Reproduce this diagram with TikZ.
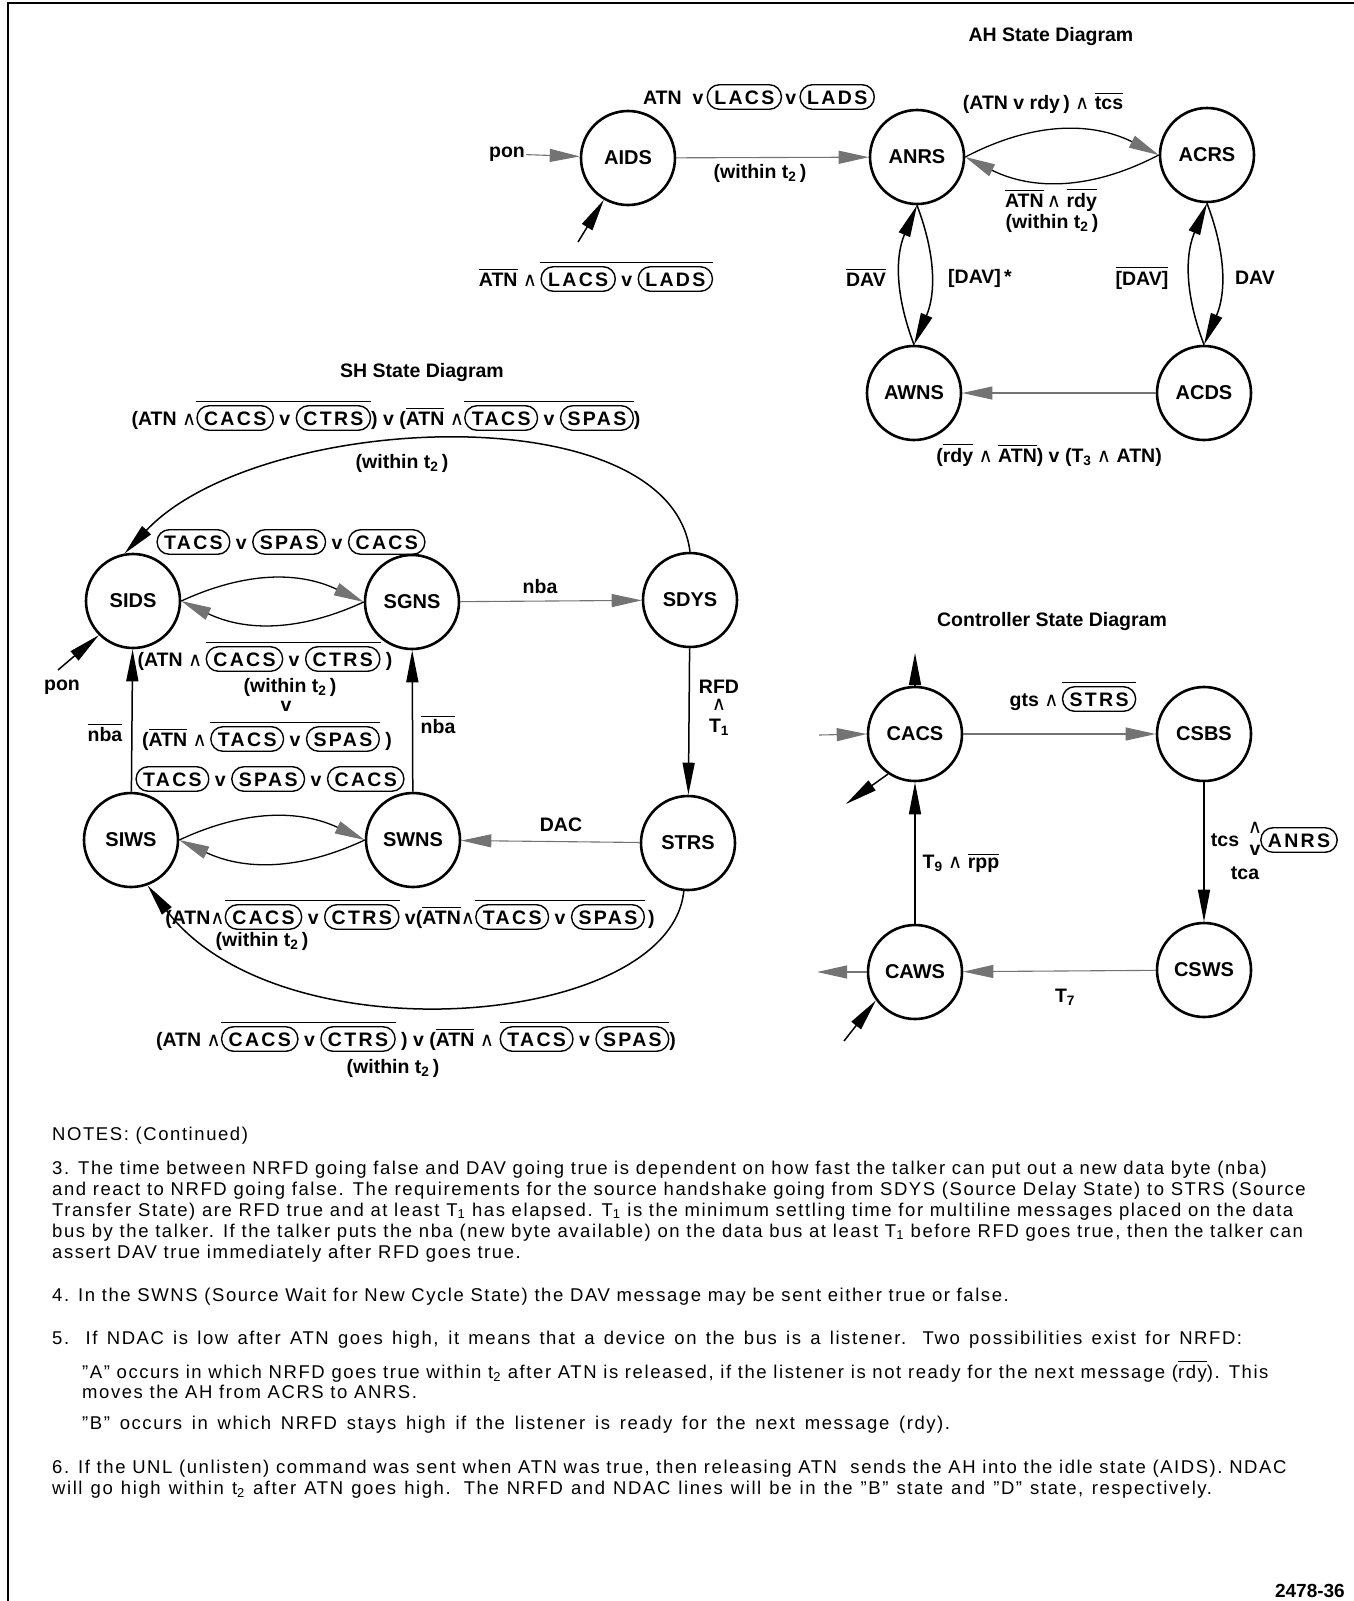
\documentclass[tikz,border=0pt]{standalone}
\usepackage{fontspec}
\setmainfont{Liberation Sans}
\newfontfamily\symf{DejaVu Sans}
\usetikzlibrary{arrows.meta}
\newcommand\AND{{\symf\mdseries\char"2227}}
\newcommand\ovl[1]{\vbox{\hrule height 1pt\kern 3pt\hbox{#1}}}
\newcommand\pill[1]{\tikz[baseline=(pl.base)]\node[draw,line width=1.4pt,rounded corners=12pt,inner xsep=7pt,inner ysep=5pt,outer sep=0pt,text height=14.5pt,text depth=0pt](pl){\addfontfeature{LetterSpace=12}#1};}
\newcommand\wt{(within t\textsubscript{2}\,)}
\tikzset{
 state/.style={draw,circle,line width=2.6pt,minimum size=94pt,inner sep=0pt,font=\fontsize{20}{22}\selectfont\bfseries},
 lbl/.style={inner sep=1pt,font=\fontsize{19.5}{22}\selectfont\bfseries},
 ttl/.style={inner sep=1pt,font=\fontsize{19.5}{22}\selectfont\bfseries},
 note/.style={anchor=base west,inner sep=0pt,font=\fontsize{18.5}{21}\selectfont\addfontfeature{LetterSpace=8.5}},
 gry/.style={draw=black!55,line width=1.1pt,-{Triangle[length=30pt,width=13pt,color=black!55]}},
 blk/.style={draw=black,line width=1.5pt,-{Triangle[length=32pt,width=12pt]}},
 garc/.style={draw=black,line width=1.3pt,-{Triangle[length=30pt,width=13pt,color=black!55]}},
}
\begin{document}
\begin{tikzpicture}[x=1pt,y=1pt]
\useasboundingbox (0,0) rectangle (1354,-1601);
\draw[line width=1.5pt] (1354,-3) -- (8,-3) -- (8,-1601);

% ---------------- AH state diagram
\node[state] (AIDS) at (628,-158) {AIDS};
\node[state] (ANRS) at (917,-157) {ANRS};
\node[state] (ACRS) at (1207,-155) {ACRS};
\node[state] (AWNS) at (914,-393) {AWNS};
\node[state] (ACDS) at (1204,-393) {ACDS};
\node[ttl] (ahT) at (1051,-37) {AH State Diagram};
\node[lbl] (pon1) at (507,-154) {pon};
\coordinate (aidsin) at (578,-242);
\draw[gry] (pon1) -- (AIDS);
\draw[blk] (aidsin) -- (AIDS.240);
\draw[gry] (AIDS) -- (ANRS);
\draw[garc] (ANRS.east) to[bend left=27] (ACRS.west);
\draw[garc] (ACRS.west) to[bend left=27] (ANRS.east);
\draw[blk] (AWNS.north) to[bend left=22] (ANRS.south);
\draw[blk] (ANRS.south) to[bend left=22] (AWNS.north);
\draw[blk] (ACDS.north) to[bend left=22] (ACRS.south);
\draw[blk] (ACRS.south) to[bend left=22] (ACDS.north);
\draw[gry] (ACDS) -- (AWNS);
\node[lbl] (l1) at (759,-97) {ATN\ \ v\,\pill{LACS}\,v\,\pill{LADS}};
\node[lbl] (l2) at (760,-173) {\wt};
\node[lbl] (l3) at (596,-277) {\ovl{ATN}\ \AND\,\ovl{\pill{LACS}\ v\ \pill{LADS}}};
\node[lbl] (l4) at (1043,-103) {(ATN v rdy\,)\ \AND\ \ovl{tcs}};
\node[lbl] (l5) at (1051,-200) {\ovl{ATN}\,\AND\ \ovl{rdy}};
\node[lbl] (l6) at (1052,-223) {\wt};
\node[lbl] (l7) at (866,-278) {\ovl{DAV}};
\node[lbl] (l8) at (980,-278) {[DAV]\,*};
\node[lbl] (l9) at (1142,-278) {\ovl{[DAV]}};
\node[lbl] (l10) at (1255,-278) {DAV};
\node[lbl] (l11) at (1049,-455) {(\ovl{rdy}\ \AND\ \ovl{ATN}) v (T\textsubscript{3}\ \AND\ ATN)};

% ---------------- SH state diagram
\node[state] (SIDS) at (133,-601) {SIDS};
\node[state] (SGNS) at (412,-602) {SGNS};
\node[state] (SDYS) at (690,-600) {SDYS};
\node[state] (SIWS) at (131,-840) {SIWS};
\node[state] (SWNS) at (413,-840) {SWNS};
\node[state] (STRS) at (688,-843) {STRS};
\node[ttl] (shT) at (422,-372) {SH State Diagram};
\draw[blk] (SDYS.90) .. controls (670,-392) and (258,-412) .. (SIDS.100);
\draw[garc] (SIDS.east) to[bend left=25] (SGNS.west);
\draw[garc] (SGNS.west) to[bend left=25] (SIDS.east);
\draw[gry] (SGNS) -- (SDYS);
\draw[blk] (SDYS) -- (STRS);
\draw[gry] (STRS) -- (SWNS);
\draw[garc] (SIWS.east) to[bend left=25] (SWNS.west);
\draw[garc] (SWNS.west) to[bend left=25] (SIWS.east);
\draw[blk] (SIWS) -- (SIDS);
\draw[blk] (SWNS) -- (SGNS);
\draw[blk] (STRS.265) .. controls (670,-1028) and (280,-1060) .. (SIWS.-70);
\coordinate (sidsin) at (58,-670);
\draw[blk] (sidsin) -- (SIDS.225);
\node[lbl] (s1) at (386,-416) {(ATN \AND\ovl{\pill{CACS}\ v\ \pill{CTRS}}) v (\ovl{ATN}\ \AND\ovl{\pill{TACS}\ v\ \pill{SPAS}})};
\node[lbl] (s2) at (402,-463) {\wt};
\node[lbl] (s3) at (291,-542) {\pill{TACS}\ v\ \pill{SPAS}\ v\ \pill{CACS}};
\node[lbl] (s4) at (540,-587) {nba};
\node[lbl] (s5a) at (719,-687) {RFD};
\node[lbl] (s5b) at (719,-705) {\AND};
\node[lbl] (s5c) at (719,-727) {T\textsubscript{1}};
\node[lbl] (s6) at (561,-825) {DAC};
\node[lbl] (s7) at (105,-733) {\ovl{nba}};
\node[lbl] (s8) at (438,-725) {\ovl{nba}};
\node[lbl] (s9) at (62,-687) {pon};
\node[lbl] (s10) at (265,-657) {(ATN \AND\,\ovl{\pill{CACS}\ v\ \pill{CTRS}}\ )};
\node[lbl] (s11) at (290,-687) {\wt};
\node[lbl] (s12) at (286,-706) {v};
\node[lbl] (s13) at (267,-737) {(\ovl{ATN}\ \AND\,\ovl{\pill{TACS}\ v\ \pill{SPAS}}\ )};
\node[lbl] (s14) at (270,-779) {\pill{TACS}\ v\ \pill{SPAS}\ v\ \pill{CACS}};
\node[lbl] (s15) at (410,-915) {(ATN\AND\ovl{\pill{CACS}\ v\ \pill{CTRS}}\ v(\ovl{ATN}\AND\ovl{\pill{TACS}\ v\ \pill{SPAS}}\,)};
\node[lbl] (s16) at (262,-941) {\wt};
\node[lbl] (s17) at (416,-1037) {(ATN \AND\ovl{\pill{CACS}\ v\ \pill{CTRS}}\ ) v (\ovl{ATN}\ \AND\ \ovl{\pill{TACS}\ v\ \pill{SPAS}})};
\node[lbl] (s18) at (393,-1068) {\wt};

% ---------------- Controller state diagram
\node[state] (CACS) at (915,-734) {CACS};
\node[state] (CSBS) at (1204,-734) {CSBS};
\node[state] (CAWS) at (915,-972) {CAWS};
\node[state] (CSWS) at (1204,-970) {CSWS};
\node[ttl] (cT) at (1052,-621) {Controller State Diagram};
\coordinate (cacsup) at (915,-653);
\coordinate (cacsin) at (819,-735);
\coordinate (cacsout) at (846,-804);
\coordinate (cawsout) at (817,-972);
\coordinate (cawsin) at (844,-1041);
\draw[blk] (CACS.north) -- (cacsup);
\draw[gry] (cacsin) -- (CACS.west);
\draw[blk] (CACS.236) -- (cacsout);
\draw[gry] (CACS) -- (CSBS);
\draw[blk] (CSBS) -- (CSWS);
\draw[gry] (CSWS) -- (CAWS);
\draw[blk] (CAWS) -- (CACS);
\draw[gry] (CAWS.west) -- (cawsout);
\draw[blk] (cawsin) -- (CAWS.216);
\node[lbl] (c1) at (1073,-697) {gts \AND\,\ovl{\pill{STRS}}};
\node[lbl] (c2a) at (1225,-840) {tcs};
\node[lbl] (c2b) at (1255,-828) {\AND};
\node[lbl] (c2c) at (1255,-850) {v};
\node[lbl] (c2d) at (1299,-840) {\pill{ANRS}};
\node[lbl] (c3) at (1245,-873) {tca};
\node[lbl] (c4) at (961,-863) {T\textsubscript{9} \AND\ \ovl{rpp}};
\node[lbl] (c5) at (1065,-997) {T\textsubscript{7}};

% ---------------- Notes
\node[note] (n0) at (52,-1140) {NOTES: (Continued)};
\node[note] (n1) at (52,-1174) {3. The time between NRFD going false and DAV going true is dependent on how fast the talker can put out a new data byte (nba)};
\node[note] (n2) at (52,-1195) {and react to NRFD going false. The requirements for the source handshake going from SDYS (Source Delay State) to STRS (Source};
\node[note] (n3) at (52,-1216) {Transfer State) are RFD true and at least T\textsubscript{1}\ has elapsed. T\textsubscript{1}\ is the minimum settling time for multiline messages placed on the data};
\node[note] (n4) at (52,-1237) {bus by the talker. If the talker puts the nba (new byte available) on the data bus at least T\textsubscript{1}\ before RFD goes true, then the talker can};
\node[note] (n5) at (52,-1258) {assert DAV true immediately after RFD goes true.};
\node[note] (n6) at (52,-1301) {4. In the SWNS (Source Wait for New Cycle State) the DAV message may be sent either true or false.};
\node[note] (n7) at (52,-1344) {\makebox[1190pt][s]{5. If NDAC is low after ATN goes high, it means that a device on the bus is a listener. Two possibilities exist for NRFD:}};
\node[note] (n8) at (82,-1378) {''A'' occurs in which NRFD goes true within t\textsubscript{2}\ after ATN is released, if the listener is not ready for the next message (\ovl{rdy}). This};
\node[note] (n9) at (82,-1398) {moves the AH from ACRS to ANRS.};
\node[note] (n10) at (82,-1429) {\makebox[868pt][s]{''B'' occurs in which NRFD stays high if the listener is ready for the next message (rdy).}};
\node[note] (n11) at (52,-1473) {6. If the UNL (unlisten) command was sent when ATN was true, then releasing ATN\ \ sends the AH into the idle state (AIDS). NDAC};
\node[note] (n12) at (52,-1494) {\makebox[1160pt][s]{will go high within t\textsubscript{2}\ after ATN goes high. The NRFD and NDAC lines will be in the ''B'' state and ''D'' state, respectively.}};
\node[anchor=base east,inner sep=0pt,font=\fontsize{19}{21}\selectfont\bfseries] (fig) at (1345,-1597) {2478-36};
\end{tikzpicture}
\end{document}
